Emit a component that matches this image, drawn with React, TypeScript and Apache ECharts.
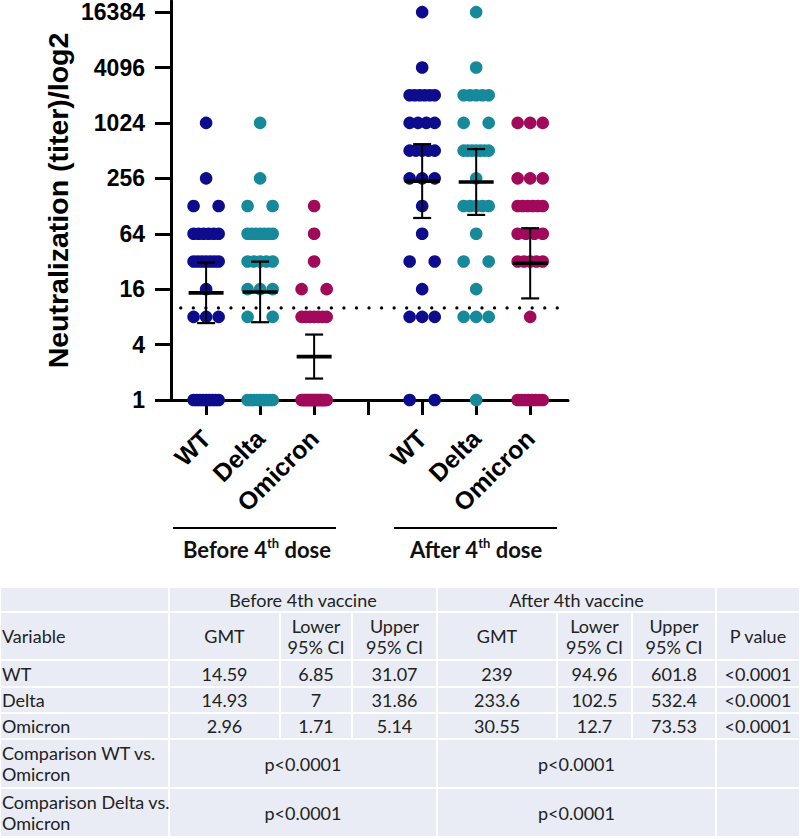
import React, { useEffect, useRef } from "react";
import * as echarts from "echarts";

// ---------- DATA ----------
const categories = ["WT", "Delta", "Omicron", "", "WT", "Delta", "Omicron"];
const groupPositions = [0, 1, 2, 4, 5, 6];
const groupColors = ["#0c0c8c", "#16899b", "#a1095b", "#0c0c8c", "#16899b", "#a1095b"];

// individual neutralization titers (n = 30 per group)
const wtBefore = [1, 1, 1, 1, 1, 1, 1, 1, 1, 8, 8, 8, 16, 32, 32, 32, 32, 32, 32, 32, 64, 64, 64, 64, 64, 64, 128, 128, 256, 1024];
const deltaBefore = [1, 1, 1, 1, 1, 1, 1, 1, 1, 8, 8, 16, 16, 16, 32, 32, 32, 32, 32, 64, 64, 64, 64, 64, 64, 64, 128, 128, 256, 1024];
const omicronBefore = [1, 1, 1, 1, 1, 1, 1, 1, 1, 1, 1, 1, 1, 1, 1, 1, 1, 1, 8, 8, 8, 8, 8, 8, 8, 16, 16, 32, 64, 128];
const wtAfter = [1, 1, 8, 8, 8, 16, 32, 32, 64, 128, 256, 256, 256, 512, 512, 512, 512, 512, 1024, 1024, 1024, 1024, 2048, 2048, 2048, 2048, 2048, 2048, 4096, 16384];
const deltaAfter = [1, 8, 8, 8, 16, 32, 32, 64, 128, 128, 128, 128, 128, 256, 512, 512, 512, 512, 512, 512, 512, 1024, 1024, 2048, 2048, 2048, 2048, 2048, 4096, 16384];
const omicronAfter = [1, 1, 1, 1, 1, 1, 1, 1, 8, 32, 32, 32, 32, 32, 64, 64, 64, 64, 128, 128, 128, 128, 128, 128, 256, 256, 256, 1024, 1024, 1024];
const groupValues = [wtBefore, deltaBefore, omicronBefore, wtAfter, deltaAfter, omicronAfter];

const yTickTiters = [1, 4, 16, 64, 256, 1024, 4096, 16384];
const detectionLimit = 10;

// table values
const tableVariables = ["WT", "Delta", "Omicron"];
const gmtBefore = [14.59, 14.93, 2.96];
const lowerBefore = [6.85, 7, 1.71];
const upperBefore = [31.07, 31.86, 5.14];
const gmtAfter = [239, 233.6, 30.55];
const lowerAfter = [94.96, 102.5, 12.7];
const upperAfter = [601.8, 532.4, 73.53];
const pValues = ["<0.0001", "<0.0001", "<0.0001"];
const comparisonLabels = ["Comparison WT vs.\nOmicron", "Comparison Delta vs.\nOmicron"];
const comparisonBefore = ["p<0.0001", "p<0.0001"];
const comparisonAfter = ["p<0.0001", "p<0.0001"];
const headerBefore = "Before 4th vaccine";
const headerAfter = "After 4th vaccine";
const subHeaders = ["Variable", "GMT", "Lower\n95% CI", "Upper\n95% CI", "GMT", "Lower\n95% CI", "Upper\n95% CI", "P value"];

// ---------- LAYOUT ----------
const SWARM_HALF = 0.232;
const CHART_FONT = "Liberation Sans, Arial, sans-serif";
const TABLE_FONT = "Lato, Calibri, sans-serif";
const colEdges = [0, 169, 280, 352, 437, 557, 632, 716, 800];
const rowEdges = [587, 612, 660, 687, 713, 739, 788, 837];
const TABLE_BG = "#e9ecf4";
const TABLE_TEXT = "#222222";

function swarm(values: number[], center: number) {
  const counts = new Map<number, number>();
  values.forEach((v) => counts.set(v, (counts.get(v) || 0) + 1));
  const pts: number[][] = [];
  counts.forEach((n, v) => {
    for (let i = 0; i < n; i++) {
      const off = n === 1 ? 0 : -SWARM_HALF + (2 * SWARM_HALF * i) / (n - 1);
      pts.push([center + off, Math.log2(v)]);
    }
  });
  return pts;
}

function buildTable(): any[] {
  const els: any[] = [];
  const cell = (c0: number, c1: number, r: number, text: string, align: string) => {
    const x0 = colEdges[c0];
    const x1 = colEdges[c1];
    const y0 = rowEdges[r];
    const y1 = rowEdges[r + 1];
    els.push({
      type: "rect",
      shape: { x: x0 + 1, y: y0 + 1, width: x1 - x0 - 2, height: y1 - y0 - 2 },
      style: { fill: TABLE_BG },
      silent: true,
    });
    if (text) {
      els.push({
        type: "text",
        x: align === "left" ? x0 + 2 : (x0 + x1) / 2,
        y: (y0 + y1) / 2,
        style: {
          text,
          align: align === "left" ? "left" : "center",
          verticalAlign: "middle",
          fontSize: 18,
          lineHeight: 21,
          fontFamily: TABLE_FONT,
          fill: TABLE_TEXT,
        },
        silent: true,
      });
    }
  };
  // header row 1
  cell(0, 1, 0, "", "center");
  cell(1, 4, 0, headerBefore, "center");
  cell(4, 7, 0, headerAfter, "center");
  cell(7, 8, 0, "", "center");
  // header row 2
  subHeaders.forEach((h, i) => cell(i, i + 1, 1, h, i === 0 ? "left" : "center"));
  // value rows
  tableVariables.forEach((v, r) => {
    const vals = [
      v,
      String(gmtBefore[r]),
      String(lowerBefore[r]),
      String(upperBefore[r]),
      String(gmtAfter[r]),
      String(lowerAfter[r]),
      String(upperAfter[r]),
      pValues[r],
    ];
    vals.forEach((t, i) => cell(i, i + 1, 2 + r, t, i === 0 ? "left" : "center"));
  });
  // comparison rows
  comparisonLabels.forEach((lab, k) => {
    const r = 5 + k;
    cell(0, 1, r, lab, "left");
    cell(1, 4, r, comparisonBefore[k], "center");
    cell(4, 7, r, comparisonAfter[k], "center");
    cell(7, 8, r, "", "center");
  });
  return els;
}

function groupLabel(x: number, y: number, pre: string, post: string): any {
  return {
    type: "text",
    x,
    y,
    style: {
      text: `{a|${pre}}{s|th}{a|${post}}`,
      align: "center",
      verticalAlign: "middle",
      rich: {
        a: { fontSize: 22, fontWeight: "bold", fontFamily: TABLE_FONT, fill: "#111", lineHeight: 26 },
        s: { fontSize: 13, fontWeight: "bold", fontFamily: TABLE_FONT, fill: "#111", verticalAlign: "top", lineHeight: 26, padding: [0, 0, 8, 0] },
      },
    },
    silent: true,
  };
}

export default function App() {
  const ref = useRef<HTMLDivElement>(null);
  useEffect(() => {
    if (!ref.current) return;
    const chart = echarts.init(ref.current, null, { renderer: "svg" });

    const scatterSeries = groupValues.map((vals, g) => ({
      type: "scatter",
      name: categories[groupPositions[g]],
      data: swarm(vals, groupPositions[g]),
      symbol: "circle",
      symbolSize: 12.6,
      itemStyle: { color: groupColors[g], opacity: 1 },
      clip: false,
      z: 2,
    }));

    const errData = groupPositions.map((pos, g) => {
      const r = g % 3;
      const before = g < 3;
      const gm = before ? gmtBefore[r] : gmtAfter[r];
      const lo = before ? lowerBefore[r] : lowerAfter[r];
      const hi = before ? upperBefore[r] : upperAfter[r];
      return [pos, Math.log2(gm), Math.log2(lo), Math.log2(hi)];
    });

    const option: any = {
      animation: false,
      backgroundColor: "#ffffff",
      grid: { left: 171, top: 1, width: 397, height: 399, containLabel: false, outerBoundsMode: "none" },
      xAxis: {
        type: "value",
        min: -0.65,
        max: 6.7,
        axisLine: { show: true, onZero: false, lineStyle: { color: "#000", width: 3 } },
        axisTick: { show: true, customValues: [0, 1, 2, 3, 4, 5, 6], length: 15, lineStyle: { color: "#000", width: 3 } },
        axisLabel: {
          customValues: groupPositions,
          formatter: (v: number) => categories[Math.round(v)],
          rotate: 45,
          margin: 34,
          fontSize: 25,
          fontWeight: "bold",
          fontFamily: CHART_FONT,
          color: "#000",
        },
        splitLine: { show: false },
      },
      yAxis: {
        type: "value",
        min: 0,
        max: 14.4,
        name: "Neutralization (titer)/log2",
        nameLocation: "middle",
        nameRotate: 90,
        nameGap: 99,
        nameTextStyle: { fontSize: 28.5, fontWeight: "bold", fontFamily: CHART_FONT, color: "#000" },
        axisLine: { show: true, onZero: false, lineStyle: { color: "#000", width: 3 } },
        axisTick: { show: true, customValues: yTickTiters.map((t) => Math.log2(t)), length: 16, lineStyle: { color: "#000", width: 3 } },
        axisLabel: {
          customValues: yTickTiters.map((t) => Math.log2(t)),
          formatter: (v: number) => String(Math.round(Math.pow(2, v))),
          margin: 26,
          fontSize: 23,
          lineHeight: 20,
          fontWeight: "bold",
          fontFamily: CHART_FONT,
          color: "#000",
        },
        splitLine: { show: false },
      },
      series: [
        ...scatterSeries,
        {
          type: "line",
          name: "limit",
          data: [
            [-0.47, Math.log2(detectionLimit)],
            [6.61, Math.log2(detectionLimit)],
          ],
          symbol: "none",
          silent: true,
          lineStyle: { color: "#000", width: 3.2, type: [0.1, 12.45], cap: "round" },
          z: 3,
        },
        {
          type: "custom",
          name: "GMT",
          data: errData,
          encode: { x: 0, y: [1, 2, 3] },
          clip: false,
          z: 4,
          renderItem: (params: any, api: any) => {
            const x = api.value(0);
            const pm = api.coord([x, api.value(1)]);
            const pl = api.coord([x, api.value(2)]);
            const ph = api.coord([x, api.value(3)]);
            const stroke = { stroke: "#000", lineWidth: 2 };
            return {
              type: "group",
              children: [
                { type: "line", shape: { x1: pm[0], y1: pl[1], x2: pm[0], y2: ph[1] }, style: stroke },
                { type: "line", shape: { x1: pm[0] - 9, y1: pl[1], x2: pm[0] + 9, y2: pl[1] }, style: { stroke: "#000", lineWidth: 2.2 } },
                { type: "line", shape: { x1: pm[0] - 9, y1: ph[1], x2: pm[0] + 9, y2: ph[1] }, style: { stroke: "#000", lineWidth: 2.2 } },
                { type: "line", shape: { x1: pm[0] - 17.5, y1: pm[1], x2: pm[0] + 17.5, y2: pm[1] }, style: { stroke: "#000", lineWidth: 3.6 } },
              ],
            };
          },
        },
      ],
      graphic: [
        { type: "line", shape: { x1: 173, y1: 528, x2: 336, y2: 528 }, style: { stroke: "#000", lineWidth: 2 }, silent: true },
        { type: "line", shape: { x1: 394, y1: 528, x2: 557, y2: 528 }, style: { stroke: "#000", lineWidth: 2 }, silent: true },
        groupLabel(257, 549, "Before 4", " dose"),
        groupLabel(476, 549, "After 4", " dose"),
        ...buildTable(),
      ],
    };
    chart.setOption(option);
    return () => chart.dispose();
  }, []);
  return <div ref={ref} style={{ position: "absolute", left: 0, top: 0, width: 800, height: 839 }} />;
}
